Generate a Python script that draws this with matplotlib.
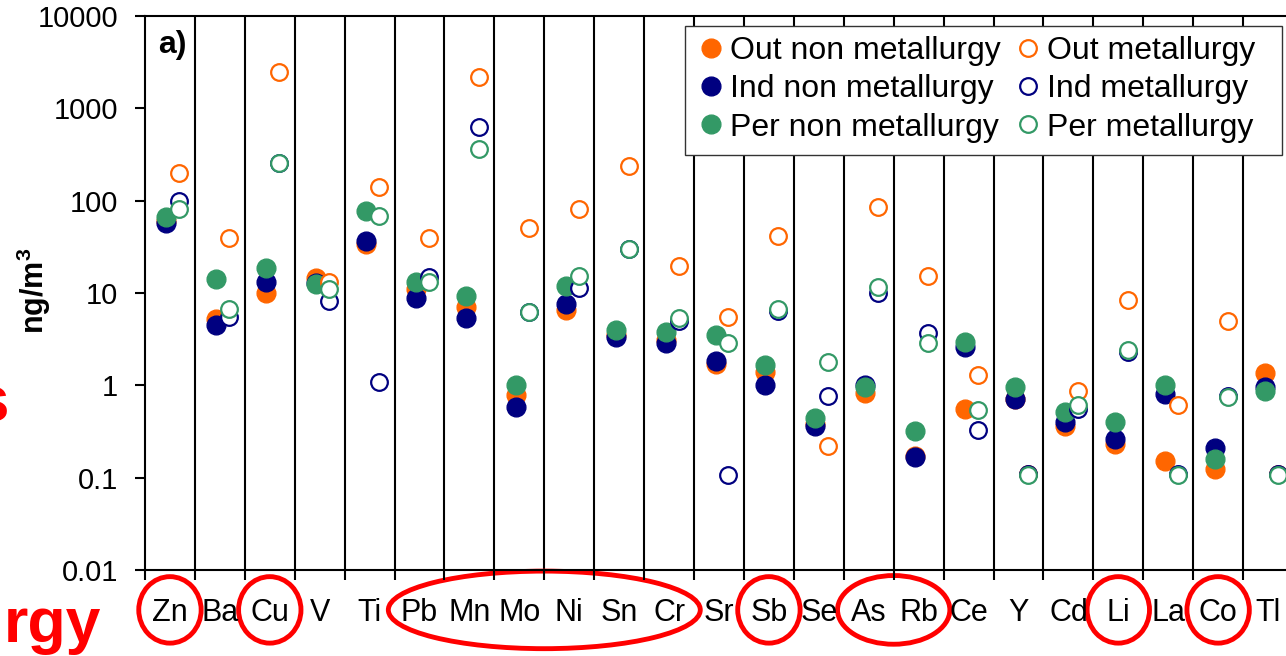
import matplotlib
matplotlib.use('Agg')
import matplotlib.pyplot as plt
import matplotlib.transforms as mtransforms
from matplotlib.patches import Ellipse, Rectangle
from matplotlib.ticker import NullLocator
import numpy as np

plt.rcParams['font.family'] = ['Liberation Sans', 'DejaVu Sans']
plt.rcParams['mathtext.fontset'] = 'custom'
plt.rcParams['mathtext.rm'] = 'Liberation Sans'
plt.rcParams['mathtext.bf'] = 'Liberation Sans:bold'

# elements along the x axis
elements = ['Zn', 'Ba', 'Cu', 'V', 'Ti', 'Pb', 'Mn', 'Mo', 'Ni', 'Sn', 'Cr', 'Sr',
            'Sb', 'Se', 'As', 'Rb', 'Ce', 'Y', 'Cd', 'Li', 'La', 'Co', 'Tl']

# concentrations in ng/m3
out_non = [60, 5.2, 10, 14.5, 34, 11, 7, 0.78, 6.5, 3.5, 3.1, 1.7, 1.4, 0.38, 0.82, 0.17,
           0.56, 0.72, 0.36, 0.23, 0.15, 0.125, 1.37]
ind_non = [57, 4.5, 13.2, 12.8, 36.5, 8.8, 5.4, 0.58, 7.6, 3.3, 2.9, 1.83, 1.0, 0.36, 1.0, 0.168,
           2.6, 0.72, 0.40, 0.26, 0.8, 0.21, 0.97]
per_non = [66, 14.2, 18.7, 12.6, 77, 13.2, 9.3, 1.0, 11.8, 4.0, 3.8, 3.5, 1.66, 0.44, 0.97, 0.32,
           2.95, 0.95, 0.51, 0.40, 1.0, 0.16, 0.86]
out_met = [200, 39.4, 2470, 13, 140, 39.4, 2190, 50.6, 81, 237, 19.6, 5.5, 41, 0.22, 85, 15.3,
           1.29, 0.11, 0.87, 8.4, 0.61, 5.0, 0.11]
ind_met = [100, 5.5, 255, 8.1, 1.09, 14.9, 630, 6.3, 11.3, 30, 5.0, 0.107, 6.4, 0.77, 10, 3.7,
           0.33, 0.11, 0.55, 2.3, 0.11, 0.77, 0.11]
per_met = [82, 6.7, 255, 11, 68, 13, 363, 6.3, 15.3, 30, 5.3, 2.9, 6.7, 1.79, 11.6, 2.9,
           0.54, 0.107, 0.62, 2.4, 0.107, 0.74, 0.107]

# highlighted groups (first, last element)
groups = [('Zn', 'Zn'), ('Cu', 'Cu'), ('Pb', 'Cr'), ('Sb', 'Sb'), ('As', 'Rb'),
          ('Li', 'Li'), ('Co', 'Co')]

orange = '#FF6600'
navy = '#000080'
green = '#339966'

W, H = 1286, 656
fig = plt.figure(figsize=(W / 100, H / 100), dpi=100)
ax = fig.add_axes([145 / W, 86 / H, 1148 / W, 554 / H])

x = np.arange(len(elements)) + 0.5

filled = [(out_non, orange, 'Out non metallurgy'),
          (ind_non, navy, 'Ind non metallurgy'),
          (per_non, green, 'Per non metallurgy')]
hollow = [(out_met, orange, 'Out metallurgy'),
          (ind_met, navy, 'Ind metallurgy'),
          (per_met, green, 'Per metallurgy')]

for vals, col, lab in filled:
    ax.plot(x - 0.07, vals, 'o', ms=13.5, color=col, mec=col, label=lab)
for vals, col, lab in hollow:
    ax.plot(x + 0.19, vals, 'o', ms=12, mfc='white', mec=col, mew=1.6, label=lab)

ax.set_yscale('log')
ax.set_ylim(0.01, 10000)
ax.set_xlim(0, len(elements))

# separators between elements
for b in range(1, len(elements)):
    ax.axvline(b, color='black', lw=1.5, zorder=0.5)

ax.set_xticks(np.arange(0, len(elements) + 1))
ax.set_xticklabels([])
ax.set_xticks(x, minor=True)
ax.set_xticklabels(elements, minor=True)
ax.tick_params(axis='x', which='major', direction='out', length=7.5, width=1.5)
ax.tick_params(axis='x', which='minor', length=0, pad=20, labelsize=22)

yt = [0.01, 0.1, 1, 10, 100, 1000, 10000]
ax.set_yticks(yt)
ax.set_yticklabels(['0.01', '0.1', '1', '10', '100', '1000', '10000'])
ax.yaxis.set_minor_locator(NullLocator())
ax.tick_params(axis='y', direction='out', length=7.5, width=1.5, pad=12, labelsize=21)

for s in ax.spines.values():
    s.set_linewidth(1.5)

fig.text(34 / W, 1 - 291 / H, r'$\mathbf{ng/m^3}$', rotation=90,
         ha='center', va='center', fontsize=22)
ax.text(0.011, 0.975, 'a)', transform=ax.transAxes, ha='left', va='top',
        fontsize=23, fontweight='bold')

leg = ax.legend(ncol=2, loc='upper left', bbox_to_anchor=(701 / W, 1 - 36 / H),
                bbox_transform=fig.transFigure, fontsize=23, frameon=False,
                borderpad=0, labelspacing=0.26, handlelength=0.6, handletextpad=0.3,
                columnspacing=0.55, borderaxespad=0)
leg.set_zorder(6)
# legend box (square corners, white fill, drawn behind the entries)
ax.add_patch(Rectangle((685 / W, 1 - 155 / H), 597 / W, 129 / H,
                       transform=fig.transFigure, fc='white', ec='#333333',
                       lw=1, zorder=5, clip_on=False))

# red highlight circles around element labels
trans = mtransforms.blended_transform_factory(ax.transData, ax.transAxes)
for a, b in groups:
    i0 = elements.index(a)
    i1 = elements.index(b)
    cx = (i0 + i1) / 2 + 0.5
    w = (i1 - i0) + 1.25
    h = 0.12 + 0.004 * (i1 - i0)
    ax.add_patch(Ellipse((cx, -0.072), w, h, transform=trans, fill=False,
                         ec='red', lw=3.5, clip_on=False))

# slide text cut off at the left edge
fig.text(9 / W, 1 - 422 / H, 's', ha='right', va='baseline', color='red',
         fontsize=46, fontweight='bold')
fig.text(101 / W, 1 - 642 / H, 'rgy', ha='right', va='baseline', color='red',
         fontsize=45, fontweight='bold')

fig.savefig('out.png', dpi=100)
